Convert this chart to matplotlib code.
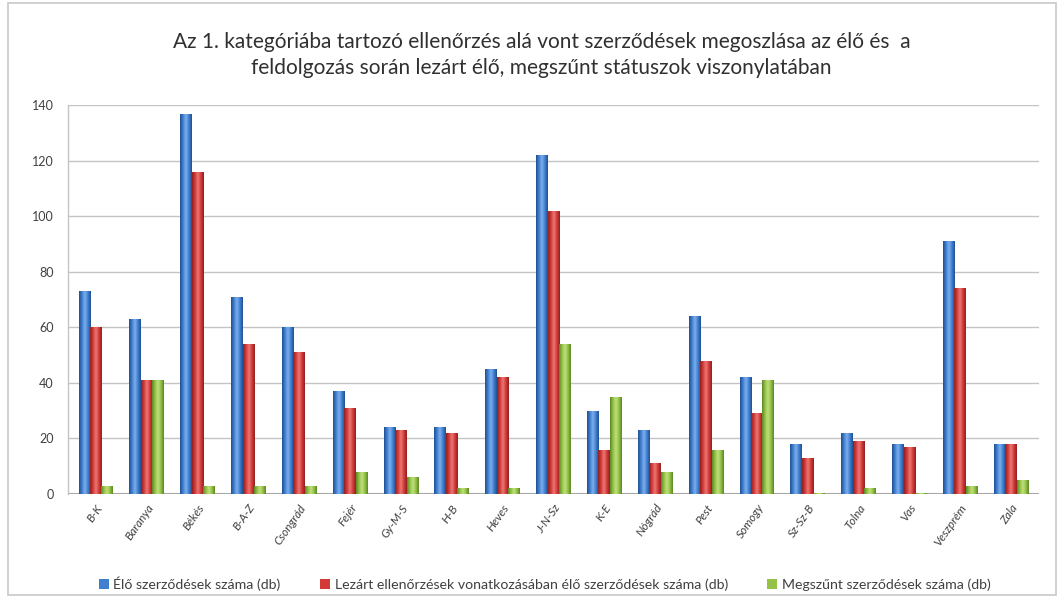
import numpy as np
import matplotlib.pyplot as plt
from matplotlib.colors import LinearSegmentedColormap
from matplotlib.patches import Rectangle

plt.rcParams['font.family'] = ['Lato', 'DejaVu Sans']

categories = ['B-K', 'Baranya', 'Békés', 'B-A-Z', 'Csongrád', 'Fejér', 'Gy-M-S',
              'H-B', 'Heves', 'J-N-Sz', 'K-E', 'Nógrád', 'Pest', 'Somogy',
              'Sz-Sz-B', 'Tolna', 'Vas', 'Veszprém', 'Zala']
elo = [73, 63, 137, 71, 60, 37, 24, 24, 45, 122, 30, 23, 64, 42, 18, 22, 18, 91, 18]
lezart = [60, 41, 116, 54, 51, 31, 23, 22, 42, 102, 16, 11, 48, 29, 13, 19, 17, 74, 18]
megszunt = [3, 41, 3, 3, 3, 8, 6, 2, 2, 54, 35, 8, 16, 41, 0.5, 2, 0.5, 3, 5]

series_names = ['Élő szerződések száma (db)',
                'Lezárt ellenőrzések vonatkozásában élő szerződések száma (db)',
                'Megszűnt szerződések száma (db)']
colors = ['#3f7fd0', '#d23a38', '#93c245']
dark = ['#1f4f8f', '#8f1f1f', '#5a8526']
light = ['#7fb0ec', '#ec7a76', '#c2e07e']


def gradient_bars(ax, x, heights, width, i):
    cmap = LinearSegmentedColormap.from_list('g%d' % i, [dark[i], colors[i], light[i], colors[i], dark[i]])
    bars = ax.bar(x, heights, width, color=colors[i], label=series_names[i], zorder=3)
    grad = np.linspace(0, 1, 64).reshape(1, -1)
    for b in bars:
        x0, w, h = b.get_x(), b.get_width(), b.get_height()
        im = ax.imshow(grad, extent=[x0, x0 + w, 0, h], aspect='auto', cmap=cmap,
                       zorder=3.5, interpolation='bicubic')
        im.set_clip_path(b)
    return bars


fig = plt.figure(figsize=(10.58, 5.98), dpi=100)
fig.patches.append(Rectangle((0.008, 0.005), 0.99, 0.99, transform=fig.transFigure,
                             fill=False, edgecolor='#c8c8c8', linewidth=1.2))
ax = fig.add_axes([0.064, 0.174, 0.918, 0.650])

x = np.arange(len(categories))
w = 0.225
gradient_bars(ax, x - w, elo, w, 0)
gradient_bars(ax, x, lezart, w, 1)
gradient_bars(ax, x + w, megszunt, w, 2)

ax.set_xlim(-0.55, len(categories) - 0.45)
ax.set_ylim(0, 140)
ax.set_yticks(np.arange(0, 141, 20))
ax.yaxis.grid(True, color='#c4c4c4', linewidth=1.0, zorder=0)
ax.set_axisbelow(True)
for s in ['top', 'right', 'bottom']:
    ax.spines[s].set_visible(False)
ax.spines['left'].set_color('#c4c4c4')
ax.spines['left'].set_linewidth(1.0)
ax.axhline(0, color='#a8a8a8', linewidth=1.5, zorder=2)
ax.tick_params(axis='y', length=0, labelsize=9, colors='#404040', pad=10)
ax.tick_params(axis='x', length=0, labelsize=8.5, colors='#404040', pad=6)
ax.set_xticks(x)
ax.set_xticklabels(categories, rotation=55, ha='right', rotation_mode='anchor',
                   style='italic')

fig.text(0.512, 0.908, 'Az 1. kategóriába tartozó ellenőrzés alá vont szerződések megoszlása az élő és  a\n'
         'feldolgozás során lezárt élő, megszűnt státuszok viszonylatában',
         ha='center', va='center', fontsize=15, color='#303030', linespacing=1.35)

handles, labels = ax.get_legend_handles_labels()
fig.legend(handles, labels, loc='center', bbox_to_anchor=(0.515, 0.024), ncol=3,
           frameon=False, fontsize=10.2, handlelength=0.7, handleheight=0.7,
           handletextpad=0.3, columnspacing=2.8, labelcolor='#404040')

fig.savefig('out.png', dpi=100)
